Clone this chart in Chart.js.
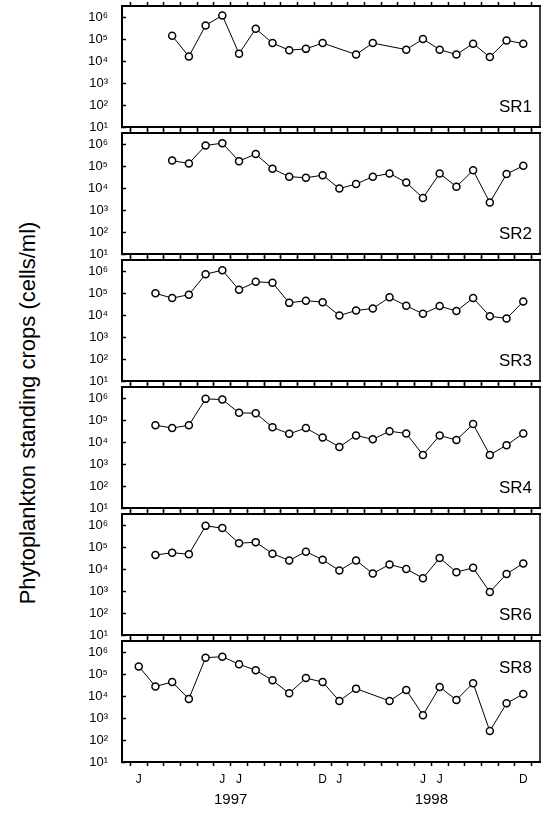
<!DOCTYPE html>
<html>
<head>
<meta charset="utf-8">
<script src="https://cdn.jsdelivr.net/npm/chart.js@4.4.0/dist/chart.umd.min.js"></script>
<style>
  body { margin: 0; background: #fff; }
  #wrap { position: relative; width: 542px; height: 824px; font-family: 'Liberation Sans', Arial, sans-serif; color: #000; }
  #wrap canvas { position: absolute; left: 0; }
  #ytitle { position: absolute; left: 28px; top: 413px; transform: translate(-50%, -50%) rotate(-90deg); white-space: nowrap; font-size: 22px; }
</style>
</head>
<body>
<div id="wrap">
  <div id="ytitle">Phytoplankton standing crops (cells/ml)</div>
</div>
<script>
// monthly samples, index 0 = Jan 1997 ... 23 = Dec 1998 (null = no sample)
const monthLabels = ['J', '', '', '', '', 'J', 'J', '', '', '', '', 'D',
                     'J', '', '', '', '', 'J', 'J', '', '', '', '', 'D'];
const yearLabels = ['1997', '1998'];
const yearPos = [5.5, 17.5];
const yTicks = [1e1, 1e2, 1e3, 1e4, 1e5, 1e6];
const sites = ['SR1', 'SR2', 'SR3', 'SR4', 'SR6', 'SR8'];

const sr1 = [null, null, 1.5e5, 1.7e4, 4.5e5, 1.3e6, 2.3e4, 3.2e5, 7e4, 3.3e4, 3.8e4, 7e4,
             null, 2.1e4, 7e4, null, 3.5e4, 1.07e5, 3.5e4, 2.1e4, 6.6e4, 1.6e4, 9.3e4, 6.6e4];
const sr2 = [null, null, 1.9e5, 1.4e5, 9.4e5, 1.2e6, 1.8e5, 3.8e5, 8e4, 3.5e4, 3.1e4, 4.1e4,
             1e4, 1.6e4, 3.5e4, 4.9e4, 1.9e4, 3.7e3, 4.9e4, 1.2e4, 6.8e4, 2.3e3, 4.6e4, 1.1e5];
const sr3 = [null, 1.04e5, 6.3e4, 9e4, 7.8e5, 1.2e6, 1.5e5, 3.5e5, 3.2e5, 3.8e4, 4.8e4, 4.1e4,
             1e4, 1.7e4, 2.1e4, 6.8e4, 2.8e4, 1.2e4, 2.7e4, 1.6e4, 6.3e4, 9.3e3, 7.3e3, 4.4e4];
const sr4 = [null, 6.2e4, 4.6e4, 6.2e4, 1e6, 9.3e5, 2.3e5, 2.2e5, 5e4, 2.5e4, 4.6e4, 1.7e4,
             6.3e3, 2.1e4, 1.4e4, 3.3e4, 2.6e4, 2.7e3, 2.1e4, 1.3e4, 7e4, 2.7e3, 7.6e3, 2.6e4];
const sr6 = [null, 4.6e4, 5.9e4, 5e4, 1e6, 7.9e5, 1.6e5, 1.8e5, 5.3e4, 2.6e4, 6.6e4, 2.8e4,
             9e3, 2.6e4, 6.6e3, 1.7e4, 1.07e4, 4e3, 3.4e4, 7.6e3, 1.2e4, 9.3e2, 6.3e3, 1.9e4];
const sr8 = [2.4e5, 2.9e4, 4.6e4, 7.8e3, 6e5, 6.7e5, 3e5, 1.6e5, 5.5e4, 1.4e4, 7e4, 4.6e4,
             6.3e3, 2.3e4, null, 6.3e3, 2e4, 1.4e3, 2.7e4, 7e3, 4.1e4, 2.6e2, 4.9e3, 1.3e4];
const siteValues = [sr1, sr2, sr3, sr4, sr6, sr8];

const FONT = "'Liberation Sans', Arial, sans-serif";
const SUP = { 1: '\u00b9', 2: '\u00b2', 3: '\u00b3', 4: '\u2074', 5: '\u2075', 6: '\u2076' };
const PANEL_H = 121, STEP = 127, FIRST_TOP = 6, TICK = 4;

// tick marks at month boundaries, labels at month centres
const halfTicks = [];
for (let k = -1; k <= 47; k++) halfTicks.push({ value: k / 2 });
const boundaryColor = c => (c.tick && Number.isInteger(c.tick.value)) ? 'rgba(0,0,0,0)' : '#000';
const noPad = s => { s.paddingTop = 0; s.paddingBottom = 0; s.paddingLeft = 0; s.paddingRight = 0; };

const panelText = {
  id: 'panelText',
  afterDraw(chart, args, opts) {
    const { ctx, chartArea: a, scales } = chart;
    ctx.save();
    ctx.strokeStyle = '#000'; ctx.lineWidth = 1.5;
    ctx.strokeRect(a.left, a.top, a.right - a.left, a.bottom - a.top);
    ctx.fillStyle = '#000';
    ctx.font = '17px ' + FONT;
    ctx.textAlign = 'right'; ctx.textBaseline = 'alphabetic';
    ctx.fillText(opts.name, a.right - 8, opts.labelTop ? a.top + 32 : a.bottom - 15);
    if (opts.years) {
      ctx.font = '15px ' + FONT;
      ctx.textAlign = 'center'; ctx.textBaseline = 'middle';
      yearLabels.forEach((t, i) => ctx.fillText(t, scales.x.getPixelForValue(yearPos[i]), a.bottom + 38));
    }
    ctx.restore();
  }
};

const wrap = document.getElementById('wrap');
sites.forEach((name, i) => {
  const last = i === sites.length - 1;
  const bottomH = last ? 62 : TICK;
  const canvas = document.createElement('canvas');
  canvas.width = 542;
  canvas.height = TICK + PANEL_H + bottomH;
  canvas.style.top = (FIRST_TOP + i * STEP - TICK) + 'px';
  wrap.appendChild(canvas);

  const pts = siteValues[i].map((v, m) => ({ x: m, y: v })).filter(p => p.y != null);

  new Chart(canvas.getContext('2d'), {
    type: 'line',
    data: {
      datasets: [{
        data: pts, borderColor: '#000', borderWidth: 1, tension: 0,
        pointRadius: 3.5, pointBorderWidth: 1.5, pointBackgroundColor: '#fff', pointBorderColor: '#000'
      }]
    },
    options: {
      responsive: false, animation: false, devicePixelRatio: 1,
      layout: { padding: { left: 0, right: 2, top: 0, bottom: 0 }, autoPadding: false },
      plugins: { legend: { display: false }, tooltip: { enabled: false }, panelText: { name, labelTop: name === 'SR8', years: last } },
      scales: {
        x: {
          type: 'linear', position: 'bottom', min: -1, max: 24,
          afterBuildTicks: s => { s.ticks = halfTicks.map(t => ({ value: t.value })); },
          afterFit: s => { s.height = bottomH; noPad(s); },
          grid: { drawOnChartArea: false, drawTicks: true, tickLength: TICK, tickWidth: 1.5, tickColor: boundaryColor },
          border: { color: '#000', width: 2 },
          ticks: {
            display: last, autoSkip: false, maxRotation: 0, padding: 6, color: '#000',
            font: { size: 12, family: FONT },
            callback: v => Number.isInteger(v) && v >= 0 ? (monthLabels[v] || '') : ''
          }
        },
        xt: {
          type: 'linear', position: 'top', min: -1, max: 24,
          afterBuildTicks: s => { s.ticks = halfTicks.map(t => ({ value: t.value })); },
          afterFit: s => { s.height = TICK; noPad(s); },
          grid: { drawOnChartArea: false, drawTicks: true, tickLength: TICK, tickWidth: 1.5, tickColor: boundaryColor },
          border: { color: '#000', width: 2 },
          ticks: { display: false }
        },
        y: {
          type: 'logarithmic', min: 10, max: 3.5e6,
          afterBuildTicks: s => { s.ticks = yTicks.map(v => ({ value: v })); },
          afterFit: s => { s.width = 122; noPad(s); },
          grid: { drawOnChartArea: false, drawTicks: true, tickLength: -4, tickWidth: 1.5, tickColor: '#000' },
          border: { color: '#000', width: 2 },
          ticks: {
            padding: 18, color: '#000', font: { size: 13, family: FONT },
            callback: v => '10' + SUP[Math.round(Math.log10(v))]
          }
        }
      }
    },
    plugins: [panelText]
  });
});
</script>
</body>
</html>
